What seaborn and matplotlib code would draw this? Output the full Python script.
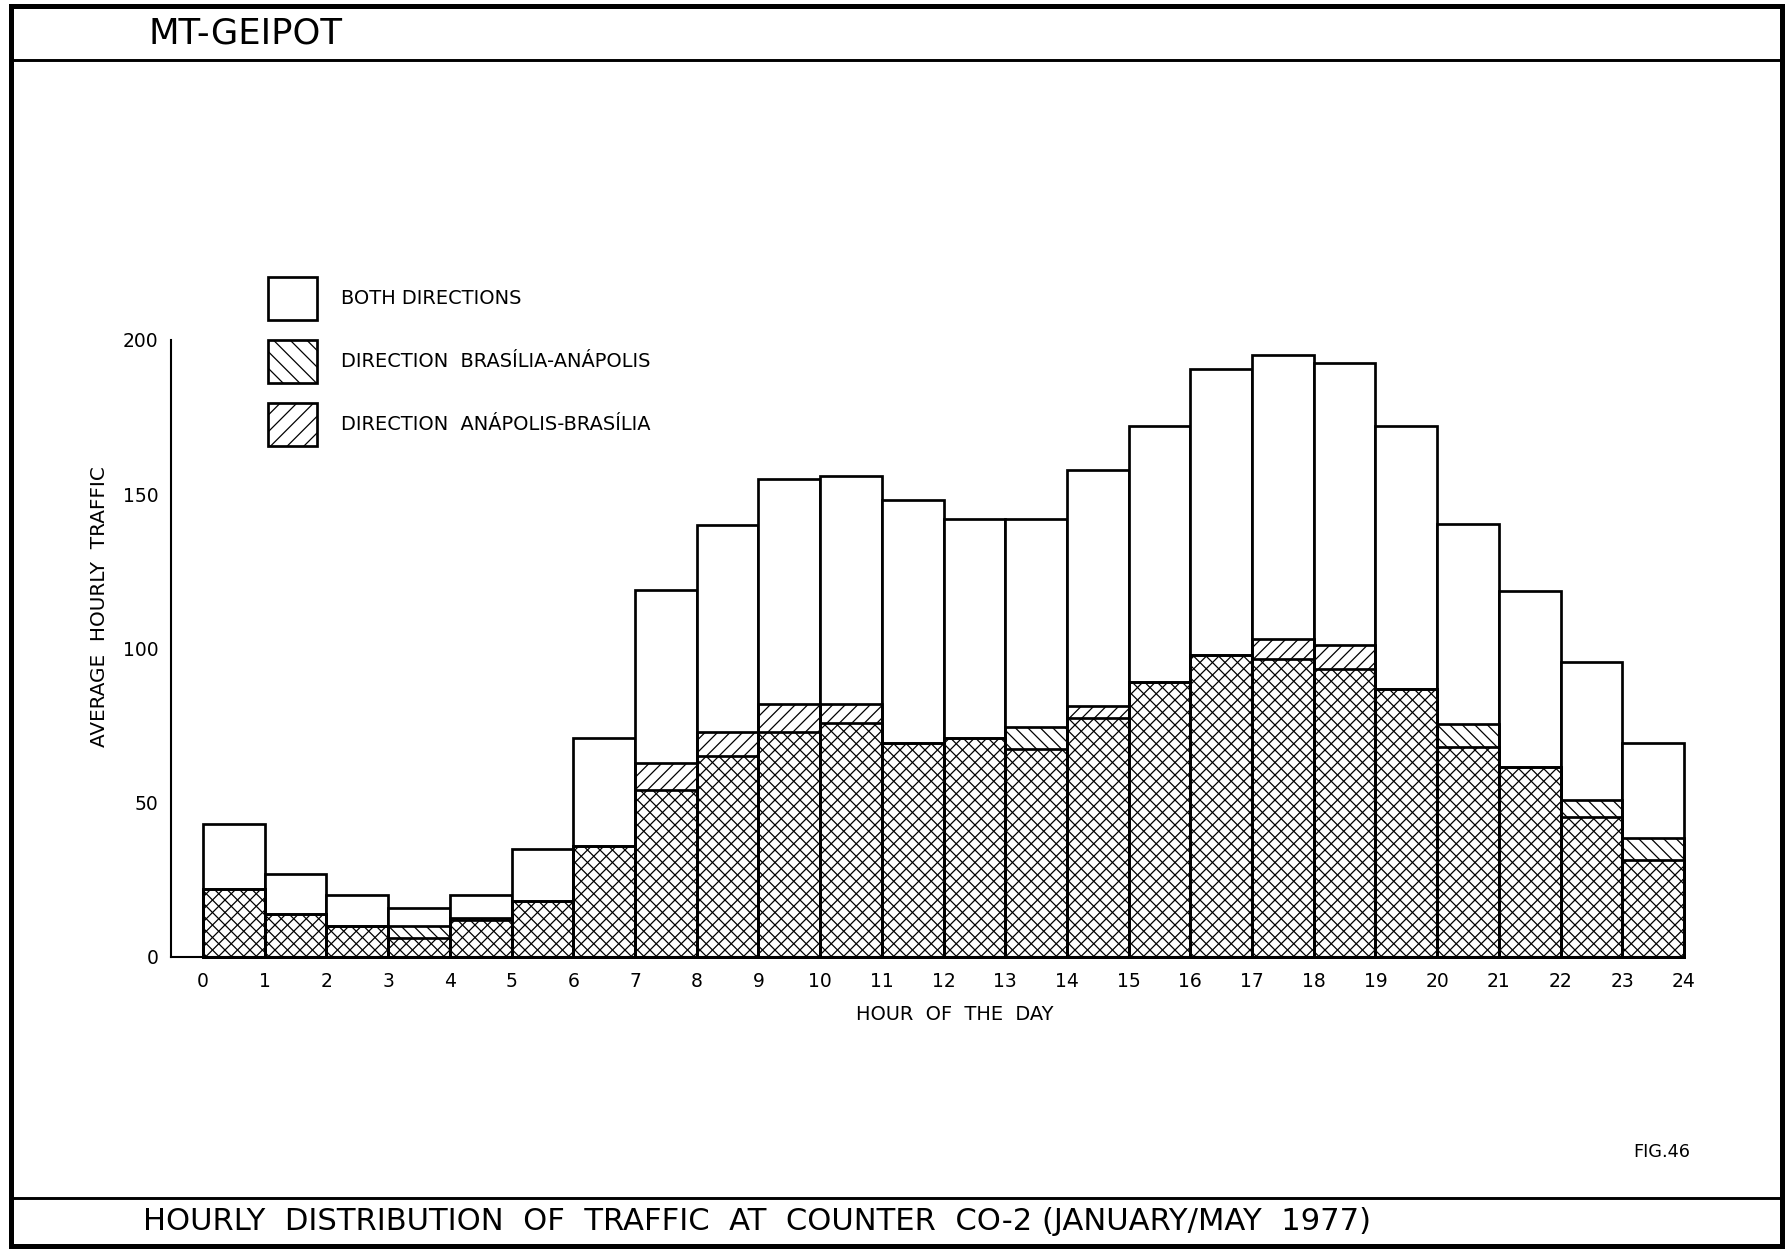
import numpy as np
import pandas as pd
import matplotlib
matplotlib.use("Agg")
import matplotlib.pyplot as plt
import seaborn as sns
from matplotlib.patches import Patch, Rectangle
from matplotlib.lines import Line2D

# ---------------- data ----------------
hours = list(range(24))
hour_tick_labels = [str(h) for h in range(25)]
both_directions = [43, 27, 20, 16, 20, 35, 71, 119, 140, 155, 156, 148,
                   142, 142, 158, 172, 190.5, 195, 192.5, 172, 140.5, 118.5, 95.5, 69.5]
brasilia_anapolis = [22, 14, 10, 10, 12.5, 18, 36, 54, 65, 73, 76, 69.5,
                     71, 74.5, 77.5, 89, 98, 96.5, 93.5, 87, 75.5, 61.5, 51, 38.5]
anapolis_brasilia = [22, 14, 10, 6, 12, 18, 36, 63, 73, 82, 82, 69.5,
                     71, 67.5, 81.5, 89, 98, 103, 101, 87, 68, 61.5, 45.5, 31.5]
y_ticks = [0, 50, 100, 150, 200]
legend_labels = ["BOTH DIRECTIONS", "DIRECTION  BRASÍLIA-ANÁPOLIS", "DIRECTION  ANÁPOLIS-BRASÍLIA"]

df = pd.DataFrame({
    "center": np.array(hours) + 0.5,
    "both": both_directions,
    "ba": brasilia_anapolis,
    "ab": anapolis_brasilia,
})

# ---------------- style ----------------
sns.set_theme(style="white")
plt.rcParams["font.family"] = ["DejaVu Sans"]
plt.rcParams["hatch.linewidth"] = 0.6
plt.rcParams["hatch.color"] = "black"

W, H, DPI = 1788, 1251, 150
fig = plt.figure(figsize=(W / DPI, H / DPI), dpi=DPI)
fig.patch.set_facecolor("white")

ax_left, ax_right, ax_top, ax_bot = 171, 1684, 340, 957
ax = fig.add_axes([ax_left / W, 1 - ax_bot / H, (ax_right - ax_left) / W, (ax_bot - ax_top) / H])

EDGE_LW = 1.3
HATCH_BA = "\\\\\\\\"
HATCH_AB = "////"

sns.barplot(data=df, x="center", y="both", native_scale=True, width=1,
            color="white", saturation=1, edgecolor="black", linewidth=EDGE_LW,
            errorbar=None, ax=ax)
n0 = len(ax.patches)
sns.barplot(data=df, x="center", y="ba", native_scale=True, width=1,
            color="white", saturation=1, edgecolor="black", linewidth=EDGE_LW,
            hatch=HATCH_BA, errorbar=None, ax=ax)
for p in ax.patches[n0:]:
    p.set_facecolor("none")
n1 = len(ax.patches)
sns.barplot(data=df, x="center", y="ab", native_scale=True, width=1,
            color="white", saturation=1, edgecolor="black", linewidth=EDGE_LW,
            hatch=HATCH_AB, errorbar=None, ax=ax)
for p in ax.patches[n1:]:
    p.set_facecolor("none")
for p in ax.patches:
    p.set_clip_on(False)

ax.set_xlim(-0.52, 24.0)
ax.set_ylim(0, 200)
ax.set_xticks(range(25))
ax.set_xticklabels(hour_tick_labels)
ax.set_yticks(y_ticks)
ax.set_yticklabels([str(v) for v in y_ticks])
ax.tick_params(axis="both", which="major", labelsize=9, colors="black",
               direction="out", length=3, width=1, pad=3)
ax.tick_params(axis="x", length=2, pad=5)
for s in ["top", "right"]:
    ax.spines[s].set_visible(False)
for s in ["left", "bottom"]:
    ax.spines[s].set_color("black")
    ax.spines[s].set_linewidth(1.0)
ax.set_facecolor("none")

ax.set_xlabel("HOUR  OF  THE  DAY", fontsize=9.3, color="black")
ax.xaxis.set_label_coords((955 - ax_left) / (ax_right - ax_left), -(1015 - ax_bot) / (ax_bot - ax_top))
ax.xaxis.label.set_va("center")
ax.set_ylabel("AVERAGE  HOURLY  TRAFFIC", fontsize=9.6, color="black")
ax.yaxis.set_label_coords(-(ax_left - 100) / (ax_right - ax_left), (ax_bot - 607) / (ax_bot - ax_top))
ax.yaxis.label.set_va("center")

handles = [
    Patch(facecolor="white", edgecolor="black", linewidth=EDGE_LW, label=legend_labels[0]),
    Patch(facecolor="white", edgecolor="black", linewidth=EDGE_LW, hatch="\\\\\\", label=legend_labels[1]),
    Patch(facecolor="white", edgecolor="black", linewidth=EDGE_LW, hatch="///", label=legend_labels[2]),
]
fs_leg = 9.3
leg = ax.legend(handles=handles, loc="upper left",
                bbox_to_anchor=((268 - ax_left) / (ax_right - ax_left), (ax_bot - 277) / (ax_bot - ax_top)),
                frameon=False, borderpad=0, borderaxespad=0, fontsize=fs_leg,
                handlelength=2.55, handleheight=3.05, labelspacing=1.02, handletextpad=1.2)
for t in leg.get_texts():
    t.set_color("black")

# ---------------- frame & titles ----------------
fig.add_artist(Rectangle((11 / W, 1 - 1246 / H), (1782 - 11) / W, (1246 - 6) / H,
                         transform=fig.transFigure, fill=False, edgecolor="black", linewidth=2.4))
fig.add_artist(Line2D([11 / W, 1782 / W], [1 - 60 / H, 1 - 60 / H], transform=fig.transFigure,
                      color="black", linewidth=1.4))
fig.add_artist(Line2D([11 / W, 1782 / W], [1 - 1198 / H, 1 - 1198 / H], transform=fig.transFigure,
                      color="black", linewidth=1.4))

fig.text(148 / W, 1 - 33 / H, "MT-GEIPOT", fontsize=17, ha="left", va="center", color="black")
fig.text(143 / W, 1 - 1222 / H, "HOURLY  DISTRIBUTION  OF  TRAFFIC  AT  COUNTER  CO-2 (JANUARY/MAY  1977)",
         fontsize=14.7, ha="left", va="center", color="black")
fig.text(1633 / W, 1 - 1152 / H, "FIG.46", fontsize=8.5, ha="left", va="center", color="black")

fig.savefig("out.png", dpi=DPI, facecolor="white")
